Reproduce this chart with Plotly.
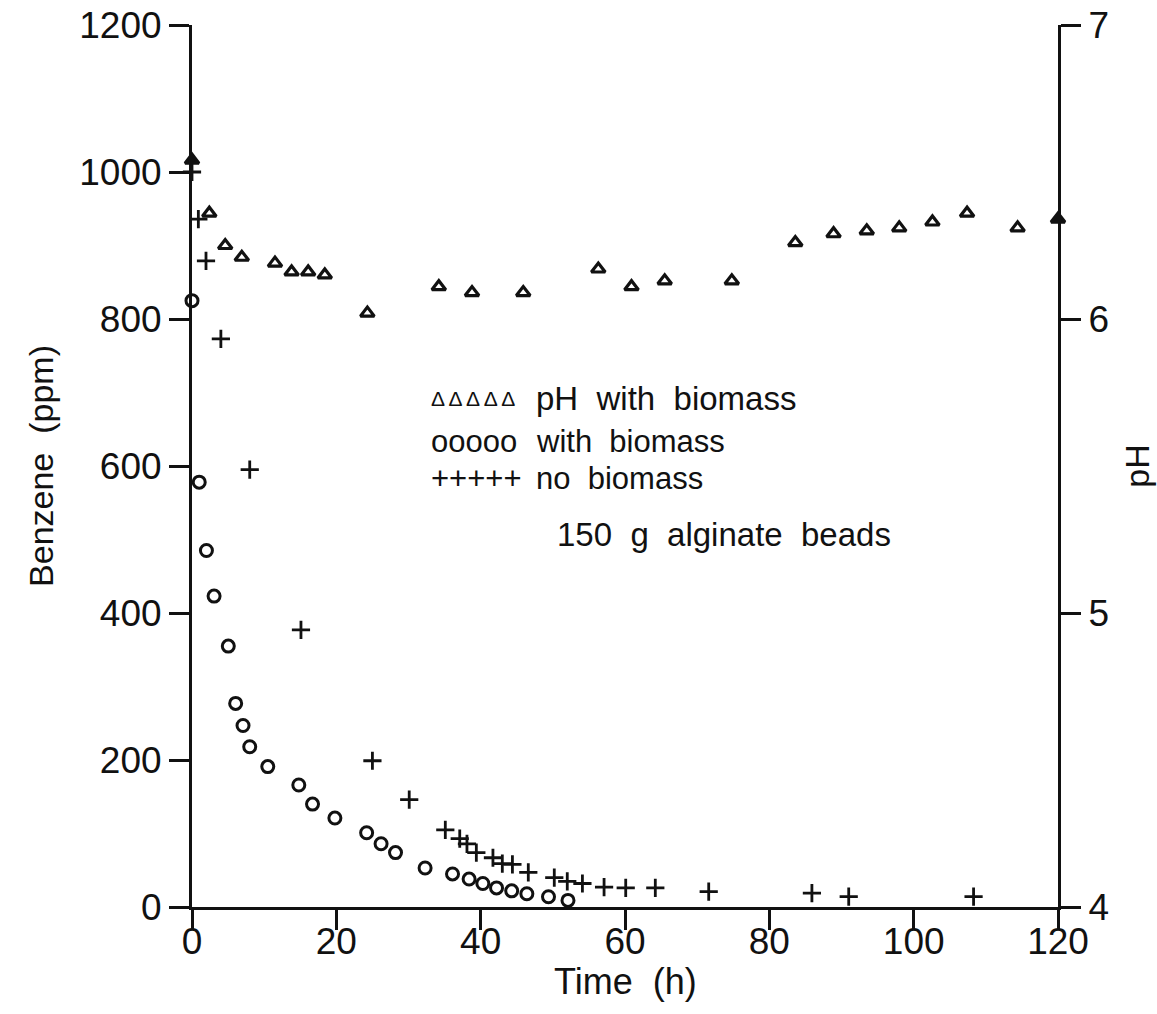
import plotly.graph_objects as go

# Benzene with biomass (open circles)
t_with = [0, 1.0, 2.0, 3.06, 5.03, 6.05, 7.07, 8.0, 10.5, 14.8, 16.7, 19.8,
          24.2, 26.2, 28.2, 32.3, 36.1, 38.4, 40.3, 42.2, 44.3, 46.4, 49.4, 52.1]
benz_with = [825, 578, 485, 423, 355, 277, 247, 218, 191, 166, 140, 121,
             101, 86, 74, 53, 45, 38, 32, 26, 22, 18, 14, 9]

# Benzene without biomass (plus signs)
t_none = [0, 0.88, 1.94, 4.0, 8.0, 15.1, 25.0, 30.1, 35.1, 37.1, 38.1, 39.4,
          41.7, 43.0, 44.4, 46.6, 50.2, 52.0, 54.1, 57.1, 60.1, 64.2, 71.6,
          85.9, 91.0, 108.3]
benz_none = [1000, 936, 879, 773, 595, 377, 199, 146, 105, 93, 86, 74,
             67, 59, 58, 47, 40, 35, 32, 27, 26, 26, 21, 19, 14, 14]

# pH with biomass (triangles, right axis)
t_ph = [0, 2.4, 4.6, 6.9, 11.5, 13.8, 16.1, 18.4, 24.3, 34.2, 38.8, 45.9,
        56.3, 60.9, 65.5, 74.8, 83.6, 88.9, 93.5, 98.0, 102.6, 107.4, 114.4, 120]
ph_vals = [6.54, 6.36, 6.25, 6.21, 6.19, 6.16, 6.16, 6.15, 6.02, 6.11, 6.09, 6.09,
           6.17, 6.11, 6.13, 6.13, 6.26, 6.29, 6.30, 6.31, 6.33, 6.36, 6.31, 6.34]

x_ticks = [0, 20, 40, 60, 80, 100, 120]
y_ticks = [0, 200, 400, 600, 800, 1000, 1200]
ph_ticks = [4, 5, 6, 7]

INK = "#111111"
FONT = "Liberation Sans, Arial, sans-serif"

fig = go.Figure()

fig.add_trace(go.Scatter(
    x=t_with, y=benz_with, mode="markers", cliponaxis=False,
    marker=dict(symbol="circle-open", size=12, color=INK,
                line=dict(width=3, color=INK)),
    showlegend=False))

fig.add_trace(go.Scatter(
    x=t_none, y=benz_none, mode="markers", cliponaxis=False,
    marker=dict(symbol="cross-thin-open", size=13, color=INK,
                line=dict(width=2.8, color=INK)),
    showlegend=False))

# end points sit on the axis lines and read as solid
ph_symbols = ["triangle-up" if (t == 0 or t == 120) else "triangle-up-open"
              for t in t_ph]
fig.add_trace(go.Scatter(
    x=t_ph, y=ph_vals, yaxis="y2", mode="markers", cliponaxis=False,
    marker=dict(symbol=ph_symbols, size=12, color=INK,
                line=dict(width=3.2, color=INK)),
    showlegend=False))

axis_common = dict(
    ticks="outside", ticklen=20, tickwidth=2.5, tickcolor=INK,
    showline=True, linewidth=3, linecolor=INK,
    showgrid=False, zeroline=False, automargin=False,
    tickfont=dict(size=37, family=FONT, color=INK),
)

fig.update_layout(
    width=1157, height=1014,
    margin=dict(l=192, r=99, t=25, b=107),
    plot_bgcolor="white", paper_bgcolor="white",
    font=dict(family=FONT, color=INK),
    xaxis=dict(range=[0, 120], tickvals=x_ticks, ticklabelstandoff=-20,
               **axis_common),
    yaxis=dict(range=[0, 1200], tickvals=y_ticks,
               title=dict(text="Benzene  (ppm)", font=dict(size=34), standoff=16),
               **axis_common),
    yaxis2=dict(range=[4, 7], tickvals=ph_ticks, overlaying="y", side="right",
                anchor="x",
                title=dict(text="pH", font=dict(size=34), standoff=18),
                **axis_common),
)

# x-axis title
fig.add_annotation(x=0.5, y=(907 - 981) / 882, xref="paper", yref="paper",
                   xanchor="center", yanchor="middle", showarrow=False,
                   borderpad=0, text="Time\u00a0\u00a0(h)",
                   font=dict(size=36, family=FONT, color=INK))

NB = "\u00a0"
legend_rows = [
    ("Δ Δ Δ Δ Δ", 21, "pH" + NB * 2 + "with" + NB * 2 + "biomass", 33, 0.577),
    ("ooooo", 31, "with" + NB * 2 + "biomass", 31, 0.528),
    ("+++++", 31, "no" + NB * 2 + "biomass", 31, 0.486),
]
for sym, sym_size, label, label_size, yp in legend_rows:
    fig.add_annotation(x=(430 - 192) / 866, y=yp, xref="paper", yref="paper",
                       xanchor="left", yanchor="middle", showarrow=False,
                       borderpad=0,
                       text=sym, font=dict(size=sym_size, family=FONT, color=INK))
    fig.add_annotation(x=(535 - 192) / 866, y=yp, xref="paper", yref="paper",
                       xanchor="left", yanchor="middle", showarrow=False,
                       borderpad=0,
                       text=label, font=dict(size=label_size, family=FONT, color=INK))

fig.add_annotation(x=(555 - 192) / 866, y=0.422, xref="paper", yref="paper",
                   xanchor="left", yanchor="middle", showarrow=False,
                   text="150" + NB * 2 + "g" + NB * 2 + "alginate" + NB * 2 + "beads",
                   font=dict(size=33, family=FONT, color=INK))

fig.write_html("out.html")
